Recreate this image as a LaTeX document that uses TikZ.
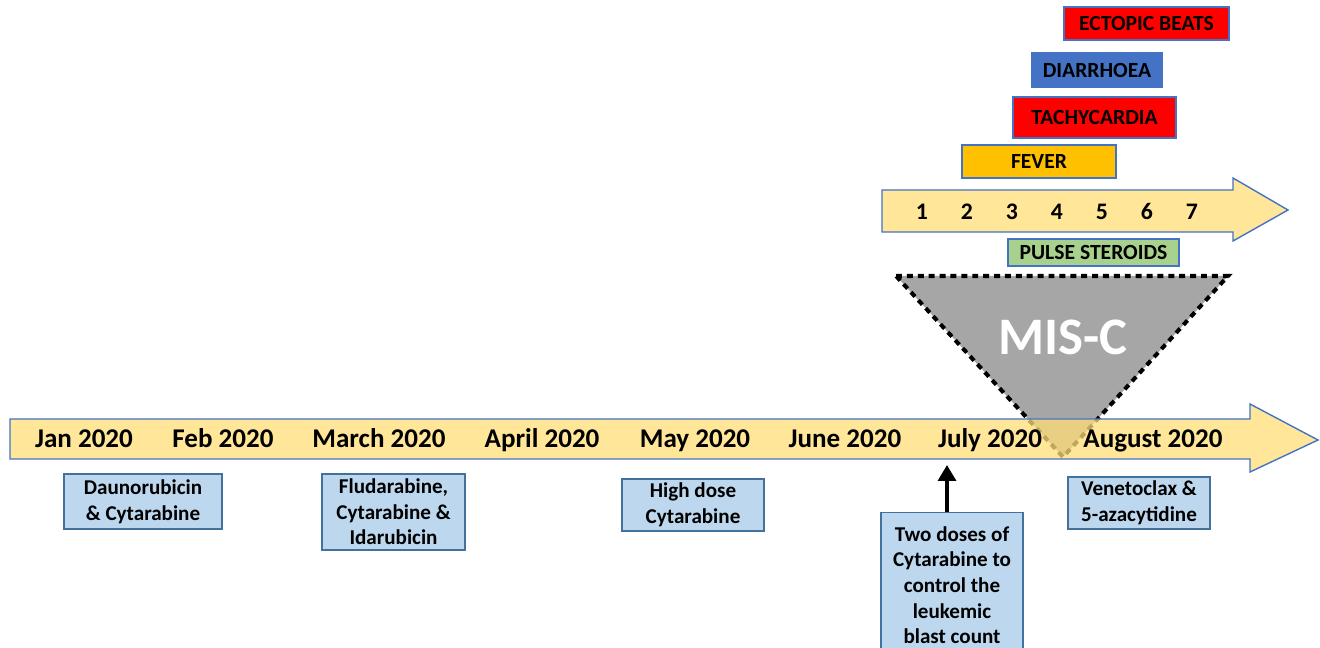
\documentclass[tikz,border=0pt]{standalone}
\usepackage{fontspec}
\setmainfont{Carlito}
\usetikzlibrary{arrows.meta}
\definecolor{bandfill}{HTML}{FFE699}
\definecolor{bandtint}{RGB}{255,222,119}
\definecolor{bandline}{HTML}{4472C4}
\definecolor{drugfill}{HTML}{BDD7EE}
\definecolor{drugline}{HTML}{41719C}
\definecolor{redbar}{HTML}{FF0000}
\definecolor{bluebar}{HTML}{4472C4}
\definecolor{feverbar}{HTML}{FFC000}
\definecolor{steroidbar}{HTML}{A9D18E}
\definecolor{misgray}{HTML}{A6A6A6}
\begin{document}
\begin{tikzpicture}[x=0.02cm,y=-0.02cm,
  month/.style={anchor=base,font=\fontsize{15.4}{18}\selectfont\bfseries},
  day/.style={anchor=base,font=\fontsize{13.5}{16}\selectfont\bfseries},
  drug/.style={draw=drugline,fill=drugfill,line width=0.8pt,align=center,inner sep=0pt,
    font=\fontsize{12}{14.6}\selectfont\bfseries},
  symptom/.style={draw=bandline,line width=0.8pt,inner sep=0pt,
    font=\fontsize{12.3}{14}\selectfont\bfseries}]
\useasboundingbox (0,0) rectangle (1320,648);
\clip (0,0) rectangle (1320,648);
% symptoms over the seven days
\node[symptom,fill=redbar,minimum width=3.3cm,minimum height=0.66cm] (ectopic) at (1146.5,23.5) {ECTOPIC BEATS};
\node[symptom,fill=bluebar,minimum width=2.6cm,minimum height=0.68cm] (diarrhoea) at (1097,70) {DIARRHOEA};
\node[symptom,fill=redbar,minimum width=3.26cm,minimum height=0.82cm] (tachy) at (1094.5,117.5) {TACHYCARDIA};
\node[symptom,fill=feverbar,minimum width=3.08cm,minimum height=0.66cm] (fever) at (1039,161.5) {FEVER};
% days
\draw[draw=bandline,fill=bandfill,line width=0.8pt] (882,190) -- (1233,190) -- (1233,178) -- (1288,210)
  -- (1233,241) -- (1233,232) -- (882,232) -- cycle;
\foreach \d in {1,...,7}
  \node[day] (day\d) at ({922+45*(\d-1)},220) {\d};
\node[symptom,fill=steroidbar,minimum width=3.42cm,minimum height=0.54cm] (steroids) at (1093.5,252.5) {PULSE STEROIDS};
% MIS-C
\draw[fill=misgray,line width=2.3pt,dash pattern=on 3.4pt off 2.8pt] (896,276) -- (1228,276) -- (1063,457) -- cycle;
\node[text=white,font=\fontsize{30}{36}\selectfont\bfseries] (misc) at (1063,337) {MIS-C};
% months
\draw[draw=bandline,line width=0.8pt,fill=bandtint,fill opacity=0.75] (10,419) -- (1250,419) -- (1250,404)
  -- (1318,440) -- (1250,472) -- (1250,459) -- (10,459) -- cycle;
\node[month] (jan) at (84,448) {Jan 2020};
\node[month] (feb) at (223,448) {Feb 2020};
\node[month] (mar) at (379,448) {March 2020};
\node[month] (apr) at (542,448) {April 2020};
\node[month] (may) at (695,448) {May 2020};
\node[month] (jun) at (845,448) {June 2020};
\node[month] (jul) at (990,448) {July 2020};
\node[month] (aug) at (1153,448) {August 2020};
% treatments
\node[drug,minimum width=3.16cm,minimum height=1.1cm] (dauno) at (143,501.5) {Daunorubicin\\\& Cytarabine};
\node[drug,minimum width=2.86cm,minimum height=1.52cm] (fluda) at (393.5,512) {Fludarabine,\\Cytarabine \&\\Idarubicin};
\node[drug,minimum width=2.84cm,minimum height=1.04cm] (hidac) at (693,505) {High dose\\Cytarabine};
\node[drug,minimum width=2.84cm,minimum height=1.04cm] (veneto) at (1139,503) {Venetoclax \&\\5-azacytidine};
\node[drug,anchor=north,minimum width=2.84cm,minimum height=2.9cm] (twodoses) at (952,512)
  {Two doses of\\Cytarabine to\\control the\\leukemic\\blast count};
\coordinate (julytick) at (947,465);
\draw[line width=2.3pt,-{Triangle[length=9pt,width=10pt]}] (twodoses.north -| julytick) -- (julytick);
\end{tikzpicture}
\end{document}
